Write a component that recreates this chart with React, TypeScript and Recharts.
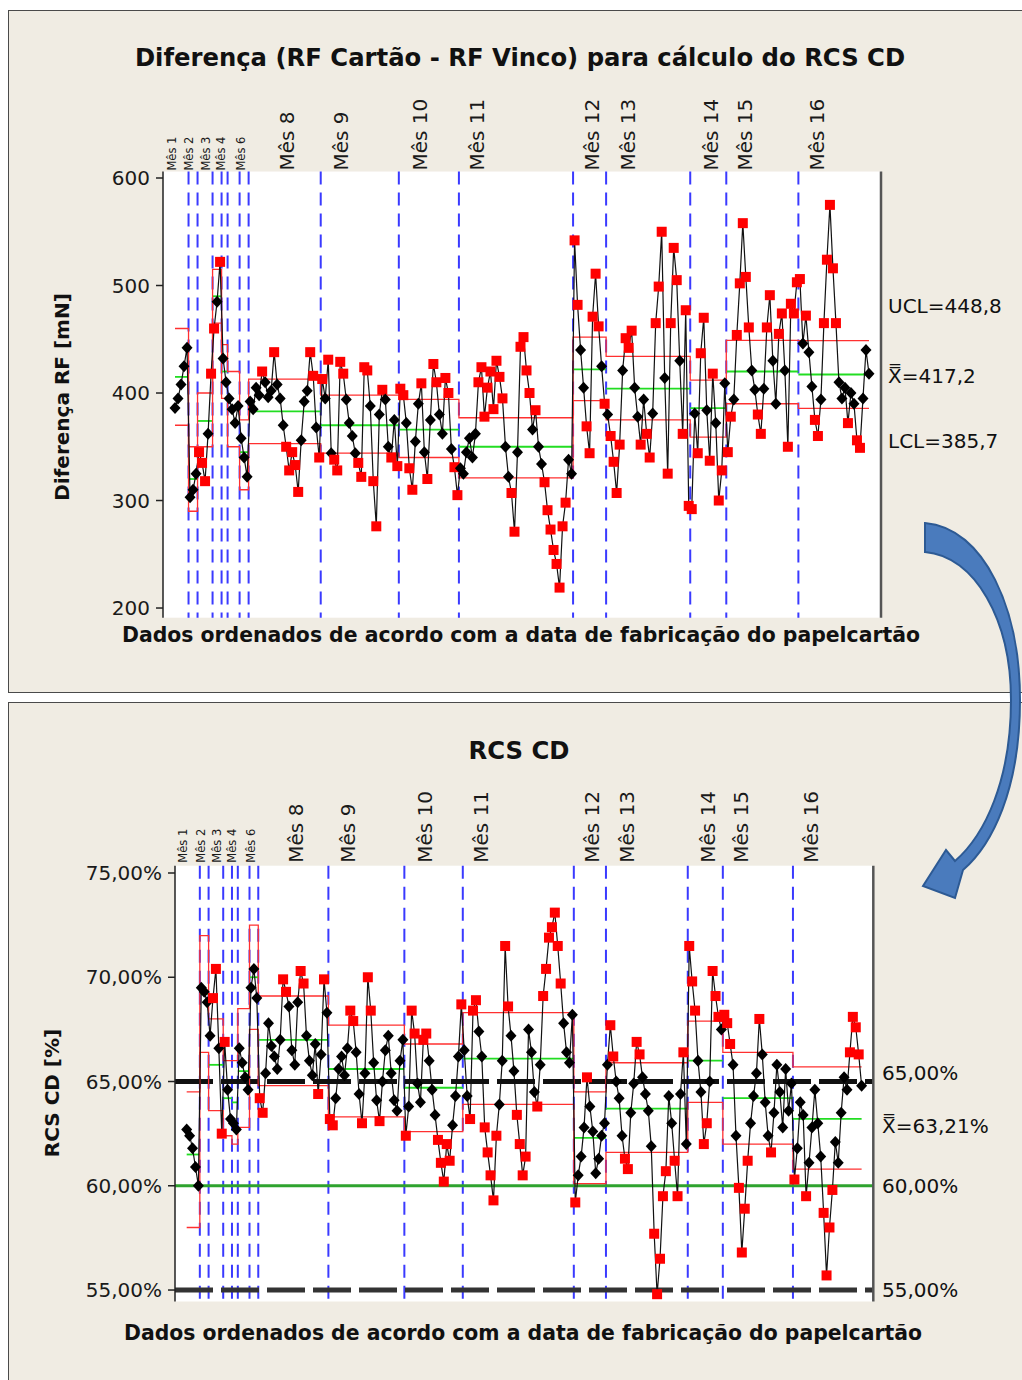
import React from 'react';
import { ComposedChart, Line, XAxis, YAxis, ReferenceLine, CartesianGrid } from 'recharts';

const FONT = 'DejaVu Sans';

// ---------- shared categories ----------
const monthLabels = ['Mês 1', 'Mês 2', 'Mês 3', 'Mês 4', 'Mês 6', 'Mês 8', 'Mês 9', 'Mês 10', 'Mês 11', 'Mês 12', 'Mês 13', 'Mês 14', 'Mês 15', 'Mês 16'];
const monthLabelPos = [2.8, 8.7, 14.3, 19.4, 26, 41.3, 59.1, 85.5, 104.5, 142.7, 154.7, 182.4, 193.7, 217.7];
const firstIndex = 4;
const xMax = 239;

// ---------- top chart: Diferença RF [mN] per production stage ----------
const rfM01 = [386, 395, 408, 425, 442];
const rfM02 = [303, 310, 325];
const rfM03 = [345, 335, 318, 362, 418];
const rfM04 = [460, 485, 522];
const rfM05 = [432, 410];
const rfM06 = [395, 385, 372, 388];
const rfM07 = [358, 340, 322];
const rfM08 = [392, 385, 405, 398, 420, 410, 396, 402, 438, 408, 395, 370, 350, 328, 345, 333, 308, 356, 392, 402, 438, 416, 368, 340];
const rfM09 = [413, 395, 431, 344, 338, 328, 429, 418, 394, 372, 360, 344, 335, 322, 424, 421, 388, 318, 276, 380, 403, 394, 350, 340, 375, 332];
const rfM10 = [404, 398, 372, 330, 310, 355, 390, 409, 345, 320, 375, 427, 410, 380, 362, 414, 400, 348, 331, 305];
const rfM11 = [330, 325, 345, 358, 340, 362, 410, 424, 378, 405, 420, 385, 430, 415, 395, 350, 322, 307, 271, 345, 443, 452, 421, 400, 366, 384, 350, 334, 317, 291, 273, 254, 241, 219, 276, 298, 338, 325];
const rfM12 = [542, 482, 440, 405, 369, 344, 471, 511, 462, 425, 390];
const rfM13 = [380, 360, 336, 307, 352, 421, 451, 442, 458, 405, 378, 352, 394, 362, 340, 381, 465, 499, 550, 414, 325, 465, 535, 505, 430, 362, 477, 295];
const rfM14 = [292, 381, 344, 437, 470, 384, 337, 418, 372, 300, 328, 409];
const rfM15 = [345, 378, 394, 454, 502, 558, 508, 461, 421, 403, 380, 362, 404, 461, 491, 430, 390, 455, 474, 421, 350, 483, 474, 503];
const rfM16 = [506, 446, 472, 438, 406, 375, 360, 394, 465, 524, 575, 516, 465, 410, 395, 405, 372, 400, 390, 356, 349, 395, 440, 418];
const rfMonths = [rfM01, rfM02, rfM03, rfM04, rfM05, rfM06, rfM07, rfM08, rfM09, rfM10, rfM11, rfM12, rfM13, rfM14, rfM15, rfM16];
const rfUCL = [460, 350, 400, 515, 445, 420, 375, 413, 398, 394, 377, 452, 434, 412, 449, 448.8];
const rfCL = [415, 320, 374, 490, 420, 385, 345, 383, 370, 366, 350, 422, 404, 386, 420, 417.2];
const rfLCL = [370, 290, 350, 465, 395, 350, 310, 353, 344, 340, 321, 393, 375, 359, 390, 385.7];
const rfTicks = [200, 300, 400, 500, 600];

// ---------- bottom chart: RCS CD [%] ----------
const rcsM01 = [62.7, 62.4, 61.8, 60.9, 60.0];
const rcsM02 = [69.5, 69.3, 68.8];
const rcsM03 = [67.2, 69.0, 70.4, 66.6, 62.5];
const rcsM04 = [66.9, 64.6, 63.2];
const rcsM05 = [63.0, 62.7];
const rcsM06 = [66.6, 65.9, 65.2, 64.6];
const rcsM07 = [69.5, 70.4, 69.0];
const rcsM08 = [64.2, 63.5, 65.4, 67.8, 66.7, 66.2, 65.6, 67.0, 69.9, 69.3, 68.6, 66.5, 65.8, 68.8, 70.3, 69.7, 67.2, 66.0, 65.3, 66.8, 64.4, 66.3, 69.9, 68.3];
const rcsM09 = [63.2, 62.9, 64.2, 65.6, 66.2, 65.3, 66.6, 68.4, 67.9, 66.4, 64.4, 63.0, 65.4, 70.0, 68.4, 65.9, 64.1, 63.1, 65.0, 66.5, 67.2, 65.4, 64.1, 63.6, 66.0, 67.0];
const rcsM10 = [62.4, 63.8, 68.4, 67.3, 64.9, 64.0, 67.0, 67.3, 66.0, 64.6, 63.4, 62.2, 61.1, 60.2, 62.0, 61.2, 62.9, 64.3, 66.2, 68.7];
const rcsM11 = [66.5, 64.3, 63.2, 68.4, 68.9, 67.4, 66.2, 62.8, 61.6, 60.5, 59.3, 62.4, 63.9, 66.0, 71.5, 68.6, 67.2, 65.5, 63.4, 62.0, 60.5, 61.4, 67.5, 66.4, 64.5, 63.8, 65.8, 69.1, 70.4, 71.9, 72.4, 73.1, 71.5, 69.7, 67.8, 66.4, 65.9, 68.2];
const rcsM12 = [59.2, 60.5, 61.4, 62.8, 65.2, 63.8, 62.6, 60.6, 61.3, 62.4, 63.0];
const rcsM13 = [65.8, 67.7, 66.2, 65.0, 64.2, 62.4, 61.3, 60.8, 63.5, 64.9, 66.9, 66.3, 65.2, 64.4, 63.6, 61.9, 57.7, 54.8, 56.5, 59.5, 60.7, 64.3, 63.0, 61.2, 59.5, 64.4, 66.4, 62.0];
const rcsM14 = [71.5, 69.8, 68.4, 66.0, 64.5, 62.0, 63.0, 65.0, 70.3, 69.1, 68.1, 67.5];
const rcsM15 = [68.2, 67.8, 66.8, 65.8, 62.4, 59.9, 56.8, 58.9, 61.2, 63.0, 64.3, 65.4, 68.0, 66.3, 64.0, 62.4, 61.6, 63.5, 65.8, 64.5, 62.8, 65.6, 63.6, 64.9];
const rcsM16 = [60.3, 61.8, 64.0, 63.4, 59.5, 61.1, 62.8, 64.6, 63.0, 61.4, 58.7, 55.7, 58.0, 59.8, 62.1, 61.1, 63.5, 65.2, 64.6, 66.4, 68.1, 67.6, 66.3, 64.8];
const rcsMonths = [rcsM01, rcsM02, rcsM03, rcsM04, rcsM05, rcsM06, rcsM07, rcsM08, rcsM09, rcsM10, rcsM11, rcsM12, rcsM13, rcsM14, rcsM15, rcsM16];
const rcsUCL = [64.5, 72.0, 68.0, 66.0, 66.0, 68.5, 72.5, 69.1, 67.7, 66.8, 68.3, 64.5, 65.9, 67.9, 66.4, 65.7];
const rcsCL = [61.5, 69.2, 65.8, 64.2, 64.0, 65.5, 70.0, 67.0, 65.6, 64.7, 66.1, 62.3, 63.7, 66.0, 64.2, 63.21];
const rcsLCL = [58.0, 66.4, 63.6, 62.4, 62.0, 62.8, 67.5, 64.8, 63.3, 62.6, 63.9, 60.1, 61.6, 64.0, 62.0, 60.8];
const rcsTicks = [55, 60, 65, 70, 75];
const rcsSpecDashed = [65, 55];
const rcsSpecGreen = 60;

// ---------- texts ----------
const rfTitle = 'Diferença (RF Cartão - RF Vinco) para cálculo do RCS CD';
const rfYLabel = 'Diferença RF [mN]';
const rcsTitle = 'RCS CD';
const rcsYLabel = 'RCS CD [%]';
const xLabel = 'Dados ordenados de acordo com a data de fabricação do papelcartão';

const comma = (v: number, d: number) => v.toFixed(d).replace('.', ',');

type Pt = { x: number; v: number; out: boolean };

function buildSeries(months: number[][], ucl: number[], lcl: number[]) {
  const pts: Pt[] = [];
  const limits: { x: number; u: number; l: number }[] = [];
  const segs: { start: number; end: number }[] = [];
  let i = firstIndex;
  months.forEach((vals, m) => {
    const start = i - 0.5;
    vals.forEach((v) => {
      pts.push({ x: i, v, out: v > ucl[m] || v < lcl[m] });
      i++;
    });
    segs.push({ start, end: i - 0.5 });
    limits.push({ x: m === 0 ? firstIndex : start, u: ucl[m], l: lcl[m] });
  });
  const last = months.length - 1;
  limits.push({ x: i - 1, u: ucl[last], l: lcl[last] });
  return { pts, limits, segs };
}

const rfData = buildSeries(rfMonths, rfUCL, rfLCL);
const rcsData = buildSeries(rcsMonths, rcsUCL, rcsLCL);

const renderDot = (p: any) => {
  const { cx, cy, payload, index } = p;
  if (cx == null || cy == null) return <g key={`d${index}`} />;
  if (payload.out) {
    return <rect key={`d${index}`} x={cx - 5} y={cy - 5} width={10} height={10} fill="#ff0000" />;
  }
  return (
    <polygon
      key={`d${index}`}
      points={`${cx},${cy - 6} ${cx + 5.5},${cy} ${cx},${cy + 6} ${cx - 5.5},${cy}`}
      fill="#000"
    />
  );
};

const makeMonthTick = (endY: number) => (props: any) => {
  const { x, payload } = props;
  const idx = monthLabelPos.indexOf(payload.value);
  const label = idx >= 0 ? monthLabels[idx] : '';
  const small = idx >= 0 && idx < 5;
  return (
    <text
      x={x}
      y={endY}
      transform={`rotate(-90 ${x} ${endY})`}
      textAnchor="start"
      dy="0.36em"
      fontSize={small ? 11.5 : 20}
      fontFamily={FONT}
      fill="#1a1a1a"
    >
      {label}
    </text>
  );
};

type ChartProps = {
  series: ReturnType<typeof buildSeries>;
  cl: number[];
  width: number;
  height: number;
  margin: { top: number; right: number; bottom: number; left: number };
  yWidth: number;
  yDomain: [number, number];
  yTicks: number[];
  yFmt: (v: number) => string;
  labelEndY: number;
  extra?: React.ReactNode[];
};

function ControlChart(props: ChartProps) {
  const { series, cl, width, height, margin, yWidth, yDomain, yTicks, yFmt, labelEndY, extra } = props;
  return (
    <ComposedChart width={width} height={height} margin={margin}>
      <CartesianGrid horizontal={false} vertical={false} fill="#ffffff" />
      <XAxis
        type="number"
        dataKey="x"
        domain={[0, xMax]}
        allowDataOverflow
        orientation="top"
        ticks={monthLabelPos}
        interval={0}
        height={60}
        tickLine={false}
        axisLine={false}
        tick={makeMonthTick(labelEndY)}
      />
      <YAxis
        type="number"
        domain={yDomain}
        allowDataOverflow
        ticks={yTicks}
        interval={0}
        tickFormatter={yFmt}
        width={yWidth}
        tickSize={7}
        tickMargin={6}
        tick={{ fontSize: 20, fontFamily: FONT, fill: '#1a1a1a' }}
        axisLine={{ stroke: '#222', strokeWidth: 1.5 }}
        tickLine={{ stroke: '#222', strokeWidth: 1.5 }}
      />
      {series.segs.slice(1).map((s, k) => (
        <ReferenceLine key={`b${k}`} x={s.start} stroke="#3a3aff" strokeWidth={2} strokeDasharray="13 8" />
      ))}
      {extra}
      <ReferenceLine x={xMax} stroke="#555" strokeWidth={2.5} />
      {series.segs.map((s, m) => (
        <ReferenceLine
          key={`c${m}`}
          segment={[{ x: m === 0 ? firstIndex : s.start, y: cl[m] }, { x: m === series.segs.length - 1 ? s.end - 0.5 : s.end, y: cl[m] }]}
          stroke="#22dd22"
          strokeWidth={1.8}
        />
      ))}
      <Line data={series.limits} dataKey="u" type="stepAfter" stroke="#ff3030" strokeWidth={1.3} dot={false} activeDot={false} isAnimationActive={false} />
      <Line data={series.limits} dataKey="l" type="stepAfter" stroke="#ff3030" strokeWidth={1.3} dot={false} activeDot={false} isAnimationActive={false} />
      <Line data={series.pts} dataKey="v" type="linear" stroke="#111" strokeWidth={1.2} dot={renderDot} activeDot={false} isAnimationActive={false} />
    </ComposedChart>
  );
}

export default function App() {
  const topPlotTop = 171.55;
  const topPlotBottom = 617.7;
  const botPlotTop = 165.7;
  const botPlotBottom = 601.5;

  const rcsExtra = [
    ...rcsSpecDashed.map((v) => (
      <ReferenceLine key={`s${v}`} y={v} stroke={v === 65 ? '#111' : '#333'} strokeWidth={5} strokeDasharray="38 8" />
    )),
    <ReferenceLine key="g60" y={rcsSpecGreen} stroke="#2ea32e" strokeWidth={3} />,
  ];

  const last = rfUCL.length - 1;
  const rfRight = [`UCL=${comma(rfUCL[last], 1)}`, `X\u033F=${comma(rfCL[last], 1)}`, `LCL=${comma(rfLCL[last], 1)}`];
  const rfRightY = [313, 383, 448];
  const rcsRight = [`${comma(rcsSpecDashed[0], 2)}%`, `X\u033F=${comma(rcsCL[last], 2)}%`, `${comma(rcsSpecGreen, 2)}%`, `${comma(rcsSpecDashed[1], 2)}%`];
  const rcsRightY = [1080, 1133, 1193, 1297];

  return (
    <div style={{ position: 'absolute', left: 0, top: 0, width: 1022, height: 1380, overflow: 'hidden', background: '#fff', fontFamily: FONT }}>
      <div style={{ position: 'absolute', left: 8, top: 10, width: 1040, height: 681, background: '#F0ECE3', border: '1px solid #4a4a4a' }} />
      <div style={{ position: 'absolute', left: 8, top: 702, width: 1040, height: 700, background: '#F0ECE3', border: '1px solid #4a4a4a' }} />

      <div style={{ position: 'absolute', left: 0, top: 0 }}>
        <ControlChart
          series={rfData}
          cl={rfCL}
          width={1022}
          height={700}
          margin={{ top: topPlotTop - 60, right: 1022 - 881, bottom: 700 - topPlotBottom, left: 163 - 60 }}
          yWidth={60}
          yDomain={[191, 606]}
          yTicks={rfTicks}
          yFmt={(v) => String(v)}
          labelEndY={topPlotTop - 1}
        />
      </div>
      <div style={{ position: 'absolute', left: 0, top: 700 }}>
        <ControlChart
          series={rcsData}
          cl={rcsCL}
          width={1022}
          height={680}
          margin={{ top: botPlotTop - 60, right: 1022 - 873.3, bottom: 680 - botPlotBottom, left: 175 - 70 }}
          yWidth={70}
          yDomain={[54.45, 75.35]}
          yTicks={rcsTicks}
          yFmt={(v) => `${comma(v, 2)}%`}
          labelEndY={botPlotTop - 3}
          extra={rcsExtra}
        />
      </div>

      <svg width={1022} height={1380} style={{ position: 'absolute', left: 0, top: 0, pointerEvents: 'none' }}>
        <g fontFamily={FONT} fill="#111">
          <text x={520} y={66} textAnchor="middle" fontSize={24.3} fontWeight="bold">{rfTitle}</text>
          <text x={62} y={397} transform="rotate(-90 62 397)" textAnchor="middle" dy="0.36em" fontSize={20} fontWeight="bold">{rfYLabel}</text>
          <text x={521} y={642} textAnchor="middle" fontSize={20.4} fontWeight="bold">{xLabel}</text>
          {rfRight.map((t, k) => (
            <text key={`rr${k}`} x={888} y={rfRightY[k]} fontSize={20}>{t}</text>
          ))}
          <text x={519} y={759} textAnchor="middle" fontSize={24.3} fontWeight="bold">{rcsTitle}</text>
          <text x={52} y={1093} transform="rotate(-90 52 1093)" textAnchor="middle" dy="0.36em" fontSize={20} fontWeight="bold">{rcsYLabel}</text>
          <text x={523} y={1340} textAnchor="middle" fontSize={20.4} fontWeight="bold">{xLabel}</text>
          {rcsRight.map((t, k) => (
            <text key={`cr${k}`} x={882} y={rcsRightY[k]} fontSize={20}>{t}</text>
          ))}
        </g>
        <path
          d="M 925 523 C 985 528, 1020 610, 1020 700 C 1020 790, 992 845, 963 870 L 955 898 L 923 886 L 946 850 L 955 861 C 985 835, 1011 780, 1011 700 C 1011 620, 975 556, 925 552 Z"
          fill="#4a7bbd"
          stroke="#2d5a94"
          strokeWidth={2}
        />
      </svg>
    </div>
  );
}
